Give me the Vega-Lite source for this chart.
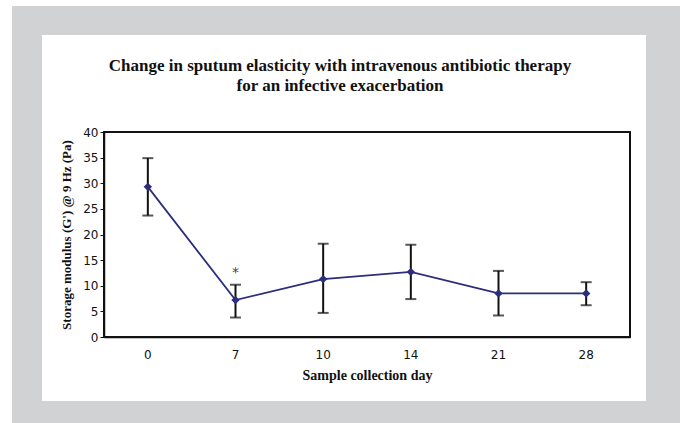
{
  "$schema": "https://vega.github.io/schema/vega-lite/v6.json",
  "width": 526,
  "height": 205,
  "autosize": "none",
  "padding": {"left": 104, "top": 132, "right": 50, "bottom": 86},
  "background": "#ffffff",
  "title": {
    "text": ["Change in sputum elasticity with intravenous antibiotic therapy", "for an infective exacerbation"],
    "font": "Liberation Serif",
    "fontSize": 17,
    "fontWeight": "bold",
    "color": "#111111",
    "lineHeight": 20,
    "anchor": "middle",
    "frame": "group",
    "dx": -27,
    "offset": -89,
    "zindex": 1
  },
  "data": {
    "values": [
      {"day": "0", "mean": 29.3, "lo": 23.7, "hi": 34.9, "sig": ""},
      {"day": "7", "mean": 7.2, "lo": 3.8, "hi": 10.2, "sig": "*"},
      {"day": "10", "mean": 11.3, "lo": 4.7, "hi": 18.2, "sig": ""},
      {"day": "14", "mean": 12.7, "lo": 7.4, "hi": 18.0, "sig": ""},
      {"day": "21", "mean": 8.5, "lo": 4.2, "hi": 12.9, "sig": ""},
      {"day": "28", "mean": 8.5, "lo": 6.2, "hi": 10.7, "sig": ""}
    ]
  },
  "resolve": {"axis": {"y": "independent"}},
  "encoding": {
    "x": {
      "field": "day",
      "type": "ordinal",
      "sort": ["0", "7", "10", "14", "21", "28"],
      "title": "Sample collection day",
      "axis": {
        "zindex": 2,
        "labelAngle": 0,
        "ticks": false,
        "tickSize": 0,
        "labelPadding": 12,
        "titlePadding": 8,
        "titleFontSize": 14
      }
    }
  },
  "layer": [
    {
      "mark": {"type": "rect", "color": "#d1d2d4", "clip": false, "xOffset": -92, "x2Offset": 50, "yOffset": -126, "y2Offset": 86},
      "encoding": {"x": {"value": 0}, "x2": {"value": 526}, "y": {"value": 0}, "y2": {"value": 205}}
    },
    {
      "mark": {"type": "rect", "color": "#ffffff", "clip": false, "xOffset": -62, "x2Offset": 16, "yOffset": -97, "y2Offset": 64},
      "encoding": {"x": {"value": 0}, "x2": {"value": 526}, "y": {"value": 0}, "y2": {"value": 205}}
    },
    {
      "mark": {"type": "rect", "fill": null, "fillOpacity": 0, "stroke": "#111111", "strokeWidth": 1.2},
      "encoding": {"x": {"value": 0}, "x2": {"value": 526}, "y": {"value": 0}, "y2": {"value": 205}}
    },
    {
      "mark": {"type": "rule", "color": "#111111", "strokeWidth": 2},
      "encoding": {
        "y": {
          "field": "lo",
          "type": "quantitative",
          "title": "Storage modulus (G') @ 9 Hz (Pa)",
          "scale": {"domain": [0, 40], "nice": false},
          "axis": {
            "zindex": 2,
            "values": [0, 5, 10, 15, 20, 25, 30, 35, 40],
            "labelOverlap": false,
            "grid": false,
            "tickSize": 4,
            "labelPadding": 2,
            "titlePadding": 9
          }
        },
        "y2": {"field": "hi"}
      }
    },
    {
      "mark": {"type": "tick", "color": "#111111", "size": 11, "thickness": 2, "orient": "horizontal"},
      "encoding": {"y": {"field": "lo", "type": "quantitative", "axis": null}}
    },
    {
      "mark": {"type": "tick", "color": "#111111", "size": 11, "thickness": 2, "orient": "horizontal"},
      "encoding": {"y": {"field": "hi", "type": "quantitative", "axis": null}}
    },
    {
      "mark": {"type": "line", "color": "#2c2d7c", "strokeWidth": 1.8},
      "encoding": {"y": {"field": "mean", "type": "quantitative", "axis": null}}
    },
    {
      "mark": {"type": "point", "shape": "diamond", "filled": true, "color": "#2c2d7c", "size": 70, "opacity": 1},
      "encoding": {"y": {"field": "mean", "type": "quantitative", "axis": null}}
    },
    {
      "transform": [{"filter": "datum.sig != ''"}],
      "mark": {"type": "text", "color": "#444444", "font": "DejaVu Sans", "fontSize": 14, "dy": -12, "baseline": "middle"},
      "encoding": {
        "y": {"field": "hi", "type": "quantitative", "axis": null},
        "text": {"field": "sig"}
      }
    }
  ],
  "config": {
    "view": {"stroke": null},
    "axis": {
      "domainColor": "#111111",
      "domainWidth": 1.5,
      "tickColor": "#111111",
      "labelFont": "DejaVu Sans",
      "labelFontSize": 12,
      "labelColor": "#111111",
      "titleFont": "Liberation Serif",
      "titleFontSize": 13,
      "titleFontWeight": "bold",
      "titleColor": "#111111"
    }
  }
}
